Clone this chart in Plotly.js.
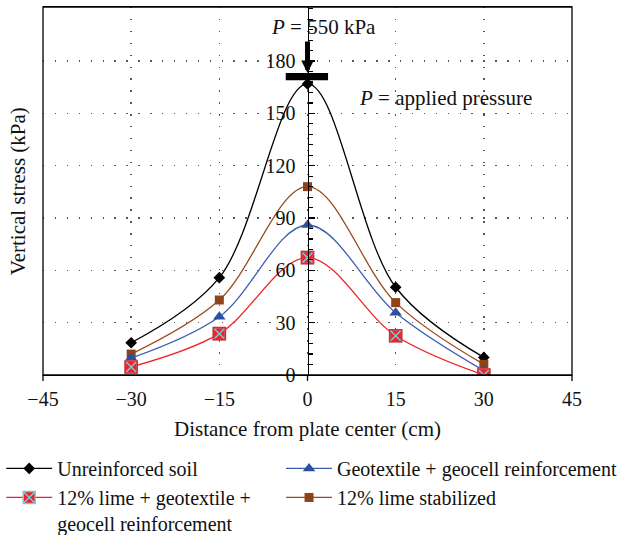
<!DOCTYPE html>
<html>
<head>
<meta charset="utf-8">
<script src="https://cdn.plot.ly/plotly-3.0.1.min.js"></script>
<style>html,body{margin:0;padding:0;background:#fff;}#chart{width:633px;height:535px;}</style>
</head>
<body>
<div id="chart"></div>
<script>
// Data
const distance = [-30, -15, 0, 15, 30];
const unreinforced = [18.5, 55.8, 166.9, 50.3, 10.1];
const limeStabilized = [12.0, 43.0, 108.0, 41.5, 6.1];
const geotextileGeocell = [9.7, 33.4, 86.0, 35.7, 2.5];
const limeGeotextileGeocell = [4.6, 23.7, 67.3, 22.5, 0.0];

const xTicks = [-45, -30, -15, 0, 15, 30, 45];
const yTicks = [0, 30, 60, 90, 120, 150, 180];

const names = {
  unreinforced: 'Unreinforced soil',
  geo: 'Geotextile + geocell reinforcement',
  limeGeo: '12% lime + geotextile +<br>geocell reinforcement',
  lime: '12% lime stabilized'
};

const FONT = 'Liberation Serif, Times New Roman, serif';
const TXT = 21;
const LEG = 20;
const TICK = 20;

const traces = [
  {
    x: distance, y: unreinforced, name: names.unreinforced, legend: 'legend', legendrank: 1,
    mode: 'lines+markers', type: 'scatter',
    line: {color: '#000000', width: 1.3, shape: 'spline', smoothing: 1},
    marker: {symbol: 'diamond', size: 9, color: '#000000'}
  },
  {
    x: distance, y: limeStabilized, name: names.lime, legend: 'legend2', legendrank: 2,
    mode: 'lines+markers', type: 'scatter',
    line: {color: '#9b4a1c', width: 1.3, shape: 'spline', smoothing: 1},
    marker: {symbol: 'square', size: 9, color: '#8f4418'}
  },
  {
    x: distance, y: geotextileGeocell, name: names.geo, legend: 'legend2', legendrank: 1,
    mode: 'lines+markers', type: 'scatter',
    line: {color: '#3b5eb0', width: 1.3, shape: 'spline', smoothing: 1},
    marker: {symbol: 'triangle-up', size: 11, color: '#2d4fa3'}
  },
  {
    x: distance, y: limeGeotextileGeocell, name: names.limeGeo, legend: 'legend', legendrank: 2,
    mode: 'lines+markers', type: 'scatter',
    line: {color: '#f0232a', width: 1.3, shape: 'spline', smoothing: 1},
    marker: {symbol: 'square-x', size: 12, color: '#ee2228', line: {color: '#7cc8d6', width: 1.5}}
  },
  {
    // red outline over the same markers so the square edge stays red
    x: distance, y: limeGeotextileGeocell, showlegend: false, hoverinfo: 'skip',
    mode: 'markers', type: 'scatter',
    marker: {symbol: 'square-open', size: 12, color: '#ee2228', line: {color: '#ee2228', width: 1.6}}
  }
];

const legendBase = {
  orientation: 'v', xanchor: 'left', y: -0.201, yanchor: 'top',
  itemwidth: 46, valign: 'top', traceorder: 'normal',
  font: {family: FONT, size: LEG, color: '#111111'}, bgcolor: 'rgba(0,0,0,0)'
};

const layout = {
  width: 633, height: 535,
  margin: {l: 43, r: 61, t: 7, b: 160, autoexpand: false},
  paper_bgcolor: '#ffffff', plot_bgcolor: '#ffffff',
  font: {family: FONT, size: TXT, color: '#111111'},
  showlegend: true,
  legend: Object.assign({}, legendBase, {x: -0.079}),
  legend2: Object.assign({}, legendBase, {x: 0.450}),
  xaxis: {
    range: [-45, 45], tickmode: 'array', tickvals: xTicks,
    showline: true, linecolor: '#000', linewidth: 1.3, mirror: true,
    ticks: '', ticklabelstandoff: 6,
    showgrid: true, gridcolor: '#555555', gridwidth: 1.4, griddash: '1.4px,10.5px',
    zeroline: false, tickfont: {family: FONT, size: TICK, color: '#111'},
    title: {text: 'Distance from plate center (cm)', font: {family: FONT, size: TXT, color: '#111'}, standoff: 12}
  },
  yaxis: {
    range: [0, 211], tickmode: 'array', tickvals: yTicks,
    anchor: 'free', position: 0.5,
    showline: true, linecolor: '#000', linewidth: 1.3,
    ticks: 'inside', ticklen: 6, tickwidth: 1.3, tickcolor: '#000',
    minor: {tickmode: 'linear', tick0: 0, dtick: 6, ticks: 'inside', ticklen: 4, tickwidth: 1.2, tickcolor: '#000', showgrid: false},
    ticklabelstandoff: 8,
    showgrid: true, gridcolor: '#555555', gridwidth: 1.4, griddash: '1.4px,10.5px',
    zeroline: false, tickfont: {family: FONT, size: TICK, color: '#111'}
  },
  shapes: [
    {type: 'rect', xref: 'paper', yref: 'paper', x0: 0, x1: 1, y0: 0, y1: 1, line: {color: '#000', width: 1.3}, layer: 'above'},
    {type: 'line', xref: 'paper', yref: 'paper', x0: 0, x1: 0, y0: -0.016, y1: 0, line: {color: '#000', width: 1.3}},
    {type: 'line', xref: 'paper', yref: 'paper', x0: 1, x1: 1, y0: -0.016, y1: 0, line: {color: '#000', width: 1.3}},
    {type: 'line', xref: 'paper', yref: 'paper', x0: 0.5, x1: 0.5, y0: -0.016, y1: 0, line: {color: '#000', width: 1.3}},
    {type: 'rect', xref: 'x', yref: 'y', x0: -3.7, x1: 3.5, y0: 169, y1: 173.2, fillcolor: '#000', line: {width: 0}, layer: 'above'}
  ],
  annotations: [
    {xref: 'paper', yref: 'paper', x: -0.047, y: 0.5, xanchor: 'center', yanchor: 'middle',
     text: 'Vertical stress (kPa)', textangle: -90,
     showarrow: false, font: {family: FONT, size: TXT, color: '#111'}},
    {xref: 'x', yref: 'y', x: 2.8, y: 199.5, text: '<i>P</i> = 550 kPa', showarrow: false,
     font: {family: FONT, size: TXT, color: '#111'}},
    {xref: 'x', yref: 'y', x: 23.4, y: 158.8, text: '<i>P</i> = applied pressure', showarrow: false,
     font: {family: FONT, size: TXT, color: '#111'}},
    {xref: 'x', yref: 'y', x: 0, y: 173.2, ax: 0, ay: -33, text: '', showarrow: true,
     arrowhead: 2, arrowsize: 0.5, arrowwidth: 5, arrowcolor: '#000'}
  ]
};

Plotly.newPlot('chart', traces, layout, {displayModeBar: false, staticPlot: true});
</script>
</body>
</html>
